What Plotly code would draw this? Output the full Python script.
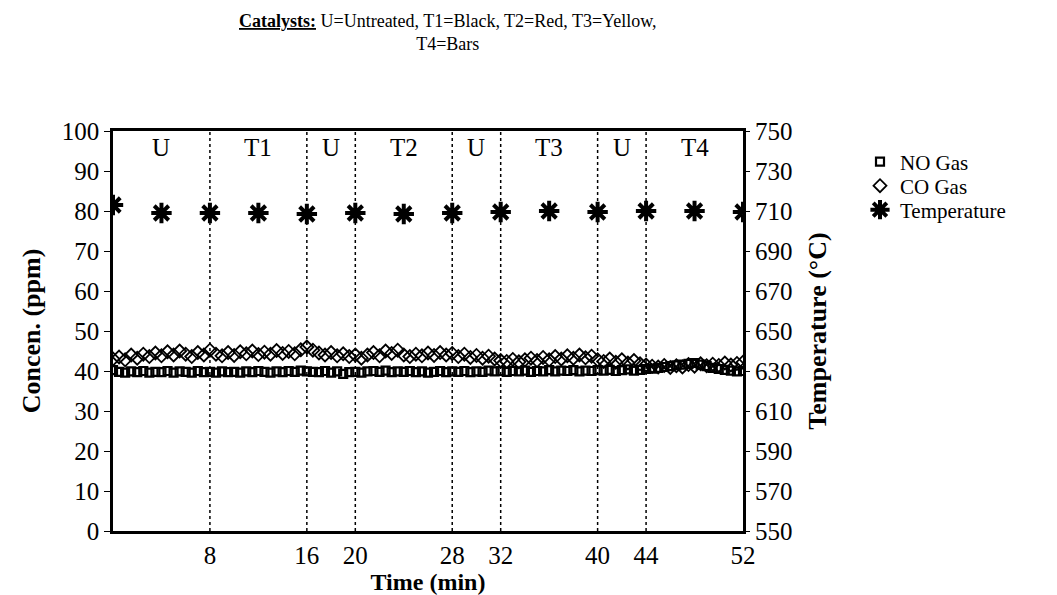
import numpy as np
import plotly.graph_objects as go

# ---------------- data ----------------
time_gas = [i * 0.5 for i in range(105)]  # 0 .. 52 min every 30 s

co_gas = [
    43.0, 43.5, 42.8, 44.0, 43.2, 44.2, 43.6, 44.5, 43.8, 44.8, 44.0, 45.0, 44.2, 43.6, 44.6, 44.0, 45.2,
    44.2, 43.8, 44.6, 43.9, 44.8, 44.3, 45.0, 44.1, 44.7, 44.2, 45.1, 44.4, 44.9, 44.3, 45.3, 46.0,
    45.2, 44.5, 44.0, 44.6, 43.8, 44.3, 43.6, 44.0,
    43.2, 44.0, 44.6, 43.8, 45.0, 44.4, 45.2, 44.0, 43.6, 44.2, 43.8, 44.5, 43.9, 44.6, 44.0, 44.4,
    43.6, 44.2, 43.4, 43.9, 43.2, 43.7, 43.0, 42.6,
    42.4, 42.9, 42.3, 42.8, 43.2, 42.6, 43.4, 42.8, 43.6, 43.0, 43.8, 43.2, 44.0, 43.3, 43.7, 42.8,
    42.4, 43.0, 42.2, 42.8, 42.0, 42.6, 41.8, 41.5,
    41.2, 41.0, 41.4, 40.9, 41.3, 41.0, 41.6, 41.2, 41.8, 41.3, 41.7, 41.4, 42.0, 41.5, 41.9, 42.2,
]

no_gas = [
    40.2, 39.8, 39.6, 39.9, 39.7, 40.0, 39.6, 39.8, 39.7, 40.0, 39.6, 39.9, 39.8, 39.6, 40.0, 39.7, 39.8,
    39.6, 39.9, 39.7, 39.8, 39.6, 39.9, 39.7, 40.0, 39.8, 39.6, 39.9, 39.7, 40.0, 39.8, 40.1, 39.9,
    39.8, 39.7, 40.0, 39.6, 39.9, 39.3, 39.7, 39.8,
    39.6, 39.9, 40.0, 39.8, 40.1, 39.7, 39.9, 39.8, 40.0, 39.7, 39.9, 39.6, 39.8, 40.0, 39.7, 39.9,
    39.8, 40.0, 39.7, 39.9, 39.8, 40.1, 39.9, 40.0,
    39.8, 40.0, 39.9, 40.1, 39.8, 40.0, 39.9, 40.2, 39.9, 40.1, 40.0, 40.2, 39.9, 40.1, 40.0, 40.2,
    40.1, 40.3, 40.0, 40.2, 40.4, 40.1, 40.3, 40.5,
    40.6, 40.8, 41.0, 41.2, 41.4, 41.6, 41.8, 42.0, 41.6, 41.2, 40.8, 40.5, 40.3, 40.1, 39.9, 40.0,
]

time_temp = [0, 4, 8, 12, 16, 20, 24, 28, 32, 36, 40, 44, 48, 52]
temperature = [713, 709, 709, 709, 708.5, 709, 708.5, 709, 709.5, 710, 709.5, 710, 710, 709.5]

phase_bounds = [8, 16, 20, 28, 32, 40, 44]
phase_labels = ["U", "T1", "U", "T2", "U", "T3", "U", "T4"]
phase_centers = [4, 12, 18, 24, 30, 36, 42, 48]

x_ticks = [8, 16, 20, 28, 32, 40, 44, 52]
y_ticks = list(range(0, 101, 10))
y2_ticks = list(range(550, 751, 20))

FONT = "Liberation Serif"
TICK = 25
TITLE = 26
LEGEND = 21

# plot-area geometry (pixels)
L, R, T, B = 105, 322, 123, 72
PW, PH = 1057 - L - R, 595 - T - B


def px_x(px):
    return (px - L) / PW


def px_y(py):
    return (595 - B - py) / PH


# ---------------- figure ----------------
fig = go.Figure()

fig.add_trace(go.Scatter(
    x=time_gas, y=no_gas, name="NO Gas", mode="markers", legend="legend",
    marker=dict(symbol="square-open", size=8, color="black", line=dict(width=2.2, color="black")),
))
fig.add_trace(go.Scatter(
    x=time_gas, y=co_gas, name="CO Gas", mode="markers", legend="legend2",
    marker=dict(symbol="diamond-open", size=10, color="black", line=dict(width=1.8, color="black")),
))
fig.add_trace(go.Scatter(
    x=time_temp, y=temperature, name="Temperature", mode="markers", yaxis="y2", legend="legend3",
    marker=dict(symbol="asterisk-open", size=17, color="black", line=dict(width=4, color="black")),
))

shapes = []
for b in phase_bounds:
    shapes.append(dict(type="line", xref="x", yref="paper", x0=b, x1=b, y0=0, y1=1,
                       line=dict(color="black", width=1.5, dash="dot"), layer="below"))

annotations = []
for c, lab in zip(phase_centers, phase_labels):
    annotations.append(dict(x=c, y=96, xref="x", yref="y", text=lab, showarrow=False,
                            font=dict(family=FONT, size=TICK, color="black")))

# title as an annotation above the plot
annotations.append(dict(
    x=px_x(440), y=px_y(1), xref="paper", yref="paper",
    xanchor="center", yanchor="top", showarrow=False, align="center",
    text="<u><b>Catalysts:</b></u> U=Untreated, T1=Black, T2=Red, T3=Yellow,<br>T4=Bars",
    font=dict(family=FONT, size=18, color="black"),
))

leg_common = dict(xanchor="left", yanchor="middle", font=dict(family=FONT, size=LEGEND),
                  bgcolor="rgba(0,0,0,0)", itemwidth=30, tracegroupgap=0)

fig.update_layout(
    width=1057, height=595,
    paper_bgcolor="white", plot_bgcolor="white",
    font=dict(family=FONT, size=TICK, color="black"),
    margin=dict(l=L, r=R, t=T, b=B, autoexpand=False),
    xaxis=dict(
        range=[0, 52], tickvals=x_ticks, ticktext=[str(t) for t in x_ticks],
        showgrid=False, zeroline=False, showline=True, linecolor="black", linewidth=2.5,
        mirror=True, ticks="", tickfont=dict(size=TICK),
        title=dict(text="<b>Time (min)</b>", font=dict(size=24), standoff=0),
    ),
    yaxis=dict(
        range=[0, 100], tickvals=y_ticks, showgrid=False, zeroline=False,
        showline=True, linecolor="black", linewidth=2.5, mirror=True,
        ticks="outside", ticklen=6, tickwidth=1, tickcolor="black", tickfont=dict(size=TICK),
        title=dict(text="<b>Concen. (ppm)</b>", font=dict(size=TITLE), standoff=14),
    ),
    yaxis2=dict(
        range=[550, 750], tickvals=y2_ticks, overlaying="y", side="right",
        showgrid=False, zeroline=False, showline=False,
        ticks="outside", ticklen=6, tickwidth=1, tickcolor="black", tickfont=dict(size=TICK),
        title=dict(text="<b>Temperature (°C)</b>", font=dict(size=TITLE), standoff=16),
    ),
    legend=dict(x=px_x(852), y=px_y(154), **leg_common),
    legend2=dict(x=px_x(852), y=px_y(178), **leg_common),
    legend3=dict(x=px_x(852), y=px_y(202), **leg_common),
    shapes=shapes, annotations=annotations, showlegend=True,
)

fig.write_html("out.html")
